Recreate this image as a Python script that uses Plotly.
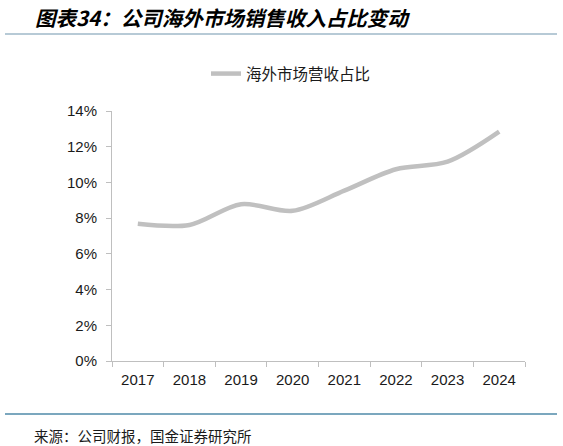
import plotly.graph_objects as go

years = ["2017", "2018", "2019", "2020", "2021", "2022", "2023", "2024"]
overseas_share = [7.68, 7.62, 8.78, 8.41, 9.54, 10.74, 11.16, 12.84]
series_name = "海外市场营收占比"
y_ticks = [0, 2, 4, 6, 8, 10, 12, 14]
y_tick_labels = ["0%", "2%", "4%", "6%", "8%", "10%", "12%", "14%"]
title_text = "图表34：公司海外市场销售收入占比变动"
source_text = "来源：公司财报，国金证券研究所"

W, H = 563, 446
L, R, T, B = 112, 525, 111, 361  # plot area in pixels

def px_x(p):
    return (p - L) / (R - L)

def px_y(p):
    return (B - p) / (B - T)

fig = go.Figure()
fig.add_trace(go.Scatter(
    x=years, y=overseas_share, mode="lines", name=series_name,
    line=dict(color="#c0c0c0", width=4.5, shape="spline", smoothing=0.9),
    showlegend=True,
))

fig.update_layout(
    width=W, height=H, autosize=False,
    margin=dict(l=L, r=W - R, t=T, b=H - B, pad=0),
    paper_bgcolor="white", plot_bgcolor="white",
    font=dict(family="Liberation Sans, Arial, sans-serif", size=14, color="#1a1a1a"),
    showlegend=True,
    legend=dict(
        orientation="h", x=px_x(206), y=px_y(74), xanchor="left", yanchor="middle",
        font=dict(family="Noto Sans CJK SC", size=15.5, color="#1a1a1a"),
        bgcolor="rgba(0,0,0,0)", borderwidth=0, itemwidth=30,
    ),
    xaxis=dict(
        type="category", range=[-0.5, len(years) - 0.5],
        showgrid=False, zeroline=False,
        showline=True, linecolor="#bfbfbf", linewidth=1,
        ticks="outside", tickson="boundaries", ticklen=5, tickcolor="#bfbfbf",
        ticklabelstandoff=5,
        tickfont=dict(family="Liberation Sans, Arial, sans-serif", size=15, color="#1a1a1a"),
        fixedrange=True,
    ),
    yaxis=dict(
        range=[0, 14], tickmode="array", tickvals=y_ticks, ticktext=y_tick_labels,
        showgrid=False, zeroline=False,
        showline=True, linecolor="#bfbfbf", linewidth=1,
        ticks="outside", ticklen=5, tickcolor="#bfbfbf",
        ticklabelstandoff=6,
        tickfont=dict(family="Liberation Sans, Arial, sans-serif", size=15, color="#1a1a1a"),
        fixedrange=True,
    ),
)

# header / footer rules
fig.add_shape(type="line", xref="paper", yref="paper",
              x0=px_x(5), x1=px_x(557), y0=px_y(34), y1=px_y(34),
              line=dict(color="#b7cad6", width=2))
fig.add_shape(type="line", xref="paper", yref="paper",
              x0=px_x(5), x1=px_x(557), y0=px_y(414), y1=px_y(414),
              line=dict(color="#4f8aa8", width=1.5))

fig.add_annotation(
    text=title_text, xref="paper", yref="paper",
    x=px_x(33), y=px_y(17), xanchor="left", yanchor="middle", showarrow=False,
    font=dict(family="Noto Sans CJK SC", size=20.5, color="#000000", weight="bold", style="italic"),
)
fig.add_annotation(
    text=source_text, xref="paper", yref="paper",
    x=px_x(32), y=px_y(435), xanchor="left", yanchor="middle", showarrow=False,
    font=dict(family="Noto Sans CJK SC", size=14.5, color="#1a1a1a"),
)

fig.write_html("out.html", config={"displayModeBar": False},
               post_script="document.body.style.margin='0';document.body.style.padding='0';")
